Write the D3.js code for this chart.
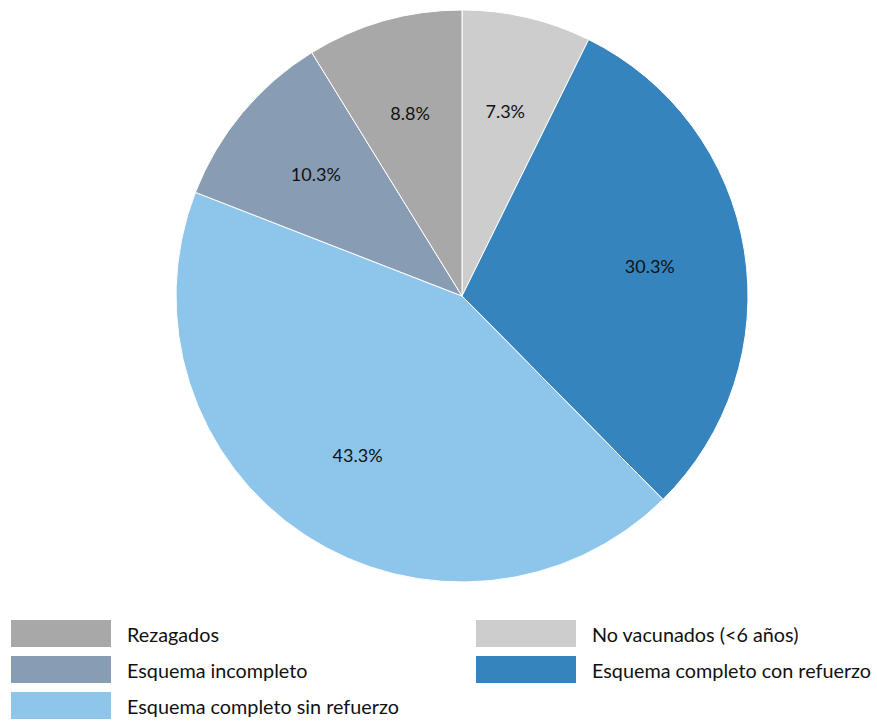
<!DOCTYPE html>
<html>
<head>
<meta charset="utf-8">
<script src="https://cdn.jsdelivr.net/npm/d3@7"></script>
<style>
  html, body { margin: 0; padding: 0; background: #fff; }
  svg text { font-family: Lato, "Open Sans", sans-serif; fill: #111; }
</style>
</head>
<body>
<svg id="chart" width="877" height="721"></svg>
<script>
// Slices in clockwise order starting at 12 o'clock
const categories = [
  "No vacunados (<6 años)",
  "Esquema completo con refuerzo",
  "Esquema completo sin refuerzo",
  "Esquema incompleto",
  "Rezagados"
];
const values = [7.3, 30.3, 43.3, 10.3, 8.8];
const colors = ["#cdcdcd", "#3584be", "#8ec5eb", "#889db3", "#a8a8a8"];
// Legend layout: two columns, filled top to bottom
const legendColumns = [
  ["Rezagados", "Esquema incompleto", "Esquema completo sin refuerzo"],
  ["No vacunados (<6 años)", "Esquema completo con refuerzo"]
];

const svg = d3.select("#chart");
const cx = 462, cy = 296, radius = 286;

const color = d3.scaleOrdinal().domain(categories).range(colors);
const data = categories.map((c, i) => ({ name: c, value: values[i] }));

const pie = d3.pie().value(d => d.value).sort(null);
const arc = d3.arc().innerRadius(0).outerRadius(radius);
const labelArc = d3.arc().innerRadius(radius * 0.665).outerRadius(radius * 0.665);

const g = svg.append("g").attr("transform", `translate(${cx},${cy})`);
const arcs = pie(data);

g.selectAll("path")
  .data(arcs)
  .join("path")
  .attr("d", arc)
  .attr("fill", d => color(d.data.name))
  .attr("stroke", "#fff")
  .attr("stroke-width", 1);

g.selectAll("text.lbl")
  .data(arcs)
  .join("text")
  .attr("class", "lbl")
  .attr("transform", d => `translate(${labelArc.centroid(d)})`)
  .attr("text-anchor", "middle")
  .attr("dominant-baseline", "central")
  .style("font-size", "18px")
  .text(d => d.data.value.toFixed(1) + "%");

// Legend
const colX = [11, 476];
const rowY0 = 620, rowStep = 36, swW = 100, swH = 27;
legendColumns.forEach((col, ci) => {
  col.forEach((name, ri) => {
    const y = rowY0 + ri * rowStep;
    svg.append("rect")
      .attr("x", colX[ci]).attr("y", y)
      .attr("width", swW).attr("height", swH)
      .attr("fill", color(name));
    svg.append("text")
      .attr("x", colX[ci] + swW + 16)
      .attr("y", y + swH / 2)
      .attr("dominant-baseline", "central")
      .style("font-size", "19.8px")
      .text(name);
  });
});
</script>
</body>
</html>
